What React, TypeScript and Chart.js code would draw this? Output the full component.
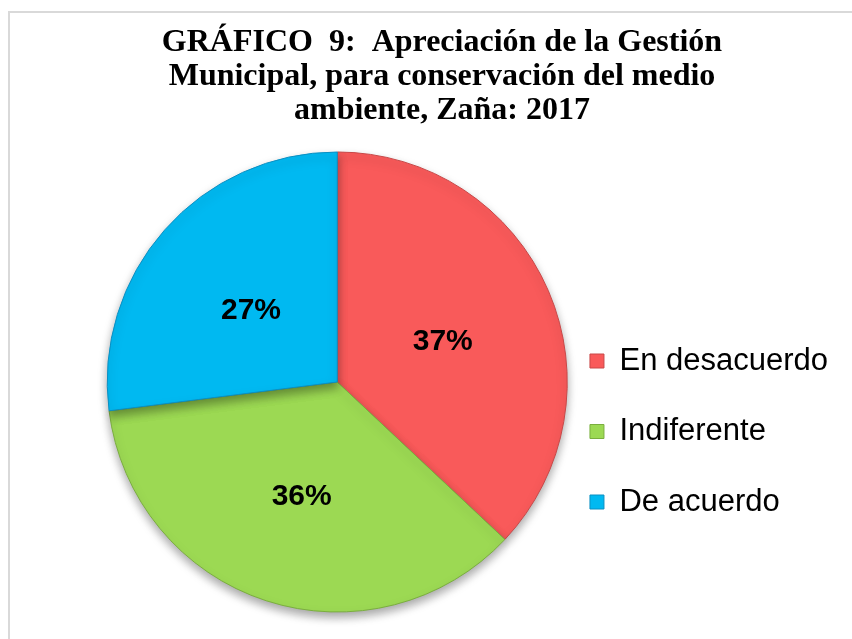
import React, { useEffect, useRef } from 'react';
import { Chart, registerables } from 'chart.js';

Chart.register(...registerables);

const titleLines = [
  'GRÁFICO  9:  Apreciación de la Gestión',
  'Municipal, para conservación del medio',
  'ambiente, Zaña: 2017',
];
const categories = ['En desacuerdo', 'Indiferente', 'De acuerdo'];
const percentages = [37, 36, 27];

const FILL = ['#F95A5A', '#9CD953', '#00B9F1'];
const EDGE = ['#C84848', '#7AAE3E', '#0B8FC2'];

export default function App() {
  const ref = useRef<HTMLCanvasElement>(null);

  useEffect(() => {
    document.body.style.margin = '0';
    const canvas = ref.current;
    if (!canvas) return;

    const shadowAndLabels = {
      id: 'shadowAndLabels',
      beforeDatasetsDraw(chart: any) {
        const c = chart.ctx;
        c.save();
        c.shadowColor = 'rgba(0,0,0,0.35)';
        c.shadowBlur = 10;
        c.shadowOffsetY = 5;
      },
      afterDatasetsDraw(chart: any) {
        const c = chart.ctx;
        c.restore();
        const meta = chart.getDatasetMeta(0);
        c.save();
        c.font = 'bold 30px "Liberation Sans", Arial, sans-serif';
        c.fillStyle = '#000';
        c.textAlign = 'center';
        c.textBaseline = 'middle';
        meta.data.forEach((arc: any, i: number) => {
          const p = arc.tooltipPosition(false);
          c.fillText(percentages[i] + '%', p.x, p.y + 5);
        });
        c.restore();
      },
    };

    const titlePlugin = {
      id: 'headTitle',
      afterDraw(chart: any) {
        const c = chart.ctx;
        c.save();
        c.font = 'bold 32px "Liberation Serif", "Times New Roman", serif';
        c.fillStyle = '#000';
        c.textAlign = 'center';
        c.textBaseline = 'middle';
        titleLines.forEach((line, i) => {
          c.fillText(line, 442, 43 + i * 34);
        });
        c.restore();
      },
    };

    const chart = new Chart(canvas, {
      type: 'pie',
      data: {
        labels: categories,
        datasets: [
          {
            data: percentages,
            backgroundColor: FILL,
            borderColor: EDGE,
            borderWidth: 1,
            radius: 230,
            hoverOffset: 0,
          } as any,
        ],
      },
      options: {
        responsive: false,
        animation: false,
        events: [],
        layout: { padding: { left: 124, right: 14, top: 207, bottom: 82 } },
        plugins: {
          tooltip: { enabled: false },
          title: { display: false },
          legend: {
            display: true,
            position: 'right',
            align: 'end',
            fullSize: false,
            labels: {
              boxWidth: 14,
              boxHeight: 14,
              padding: 39.5,
              color: '#000',
              font: { family: '"Liberation Sans", Arial, sans-serif', size: 31 },
            },
          },
        },
      } as any,
      plugins: [shadowAndLabels, titlePlugin],
    });

    return () => chart.destroy();
  }, []);

  return (
    <div style={{ position: 'fixed', left: 0, top: 0, width: 852, height: 639, background: '#fff' }}>
      <div
        style={{
          position: 'absolute',
          left: 8,
          top: 11,
          width: 844,
          height: 628,
          borderTop: '2px solid #d9d9d9',
          borderLeft: '2px solid #d9d9d9',
          boxSizing: 'border-box',
        }}
      />
      <canvas ref={ref} width={852} height={639} style={{ position: 'absolute', left: 0, top: 0 }} />
    </div>
  );
}
